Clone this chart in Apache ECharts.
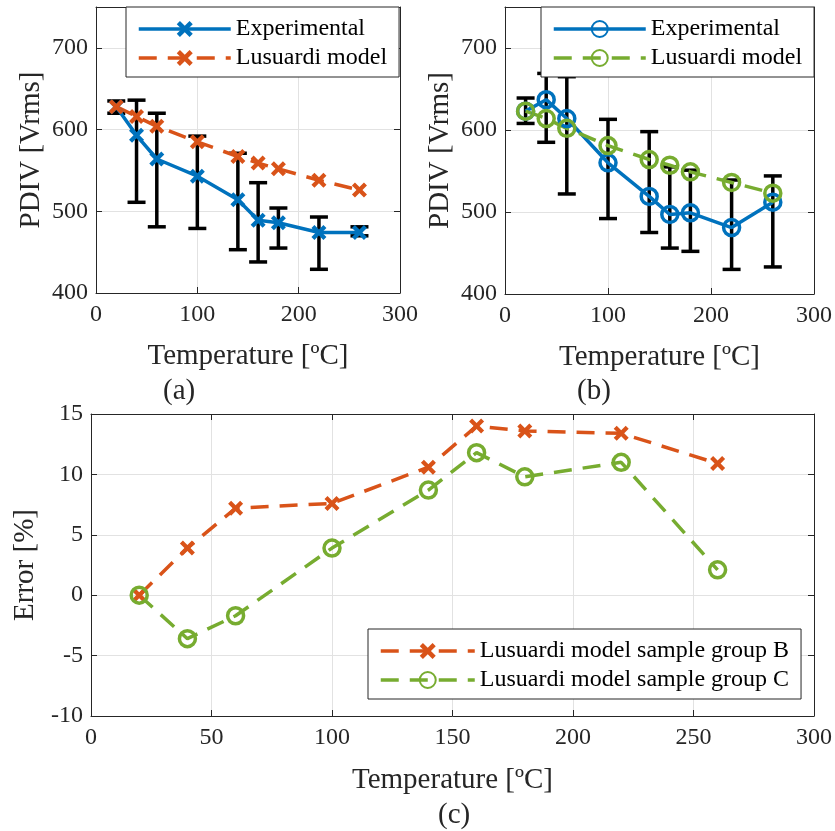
<!DOCTYPE html>
<html>
<head>
<meta charset="utf-8">
<script src="https://cdn.jsdelivr.net/npm/echarts@6/dist/echarts.min.js"></script>
<style>
  html, body { margin: 0; padding: 0; background: #fff; }
  #chart { width: 835px; height: 831px; }
</style>
</head>
<body>
<div id="chart"></div>
<script>
// temperatures [ºC]
const temps = [20, 40, 60, 100, 140, 160, 180, 220, 260];

// (a) sample group B, PDIV [Vrms]
const expA = [628, 593, 564, 543, 514, 489, 486, 474, 474];
const expALow = [620, 511, 481, 479, 453, 438, 455, 429, 470];
const expAHigh = [635, 636, 620, 592, 571, 535, 504, 493, 481];
const lusA = [628, 616, 604, 585, 567, 559, 552, 538, 526];

// (b) sample group C, PDIV [Vrms]
const expB = [623, 637, 614, 560, 519, 497, 499, 481, 512];
const expBLow = [608, 585, 522, 492, 475, 456, 452, 430, 433];
const expBHigh = [639, 669, 665, 613, 598, 555, 551, 539, 544];
const lusB = [623, 614, 602, 581, 564, 557, 549, 536, 523];

// (c) model error [%]
const errB = [0, 3.9, 7.2, 7.6, 10.6, 14.0, 13.6, 13.4, 10.9];
const errC = [0, -3.6, -1.7, 3.9, 8.7, 11.8, 9.8, 11.0, 2.1];

const BLUE = '#0072BD';
const ORANGE = '#D95319';
const GREEN = '#77AC30';
const AX = '#262626';
const FONT = '"Liberation Serif", "Times New Roman", serif';

// thick "x" marker (MATLAB style)
const X_MARK = 'path://M0,2L2,0L5,3L8,0L10,2L7,5L10,8L8,10L5,7L2,10L0,8L3,5Z';
const DASH = [18, 11];
const LW = 3.5;

const pairs = (xs, ys) => xs.map((x, i) => [x, ys[i]]);
const triples = (xs, lo, hi) => xs.map((x, i) => [x, lo[i], hi[i]]);

function mainX(grid, interval, nameGap) {
  return {
    gridIndex: grid, type: 'value', min: 0, max: 300, interval: interval,
    name: 'Temperature [ºC]', nameLocation: 'middle', nameGap: nameGap,
    nameTextStyle: { fontFamily: FONT, fontSize: 29, color: AX },
    axisLine: { show: true, onZero: false, lineStyle: { color: AX, width: 1 } },
    axisTick: { show: true, inside: true, length: 6, lineStyle: { color: AX } },
    axisLabel: { fontFamily: FONT, fontSize: 24, color: AX, margin: 10 },
    splitLine: { show: true, lineStyle: { color: '#e2e2e2', width: 1 } }
  };
}
function mirrorX(grid, interval) {
  return {
    gridIndex: grid, type: 'value', min: 0, max: 300, interval: interval, position: 'top',
    axisLine: { show: true, onZero: false, lineStyle: { color: AX, width: 1 } },
    axisTick: { show: true, inside: true, length: 6, lineStyle: { color: AX } },
    axisLabel: { show: false }, splitLine: { show: false }
  };
}
function mainY(grid, min, max, interval, name, nameGap, showMax) {
  return {
    gridIndex: grid, type: 'value', min: min, max: max, interval: interval,
    name: name, nameLocation: 'middle', nameGap: nameGap,
    nameTextStyle: { fontFamily: FONT, fontSize: 29, color: AX },
    axisLine: { show: true, onZero: false, lineStyle: { color: AX, width: 1 } },
    axisTick: { show: true, inside: true, length: 6, lineStyle: { color: AX } },
    axisLabel: { fontFamily: FONT, fontSize: 24, color: AX, margin: 8, showMaxLabel: showMax },
    splitLine: { show: true, lineStyle: { color: '#e2e2e2', width: 1 } }
  };
}
function mirrorY(grid, min, max, interval) {
  return {
    gridIndex: grid, type: 'value', min: min, max: max, interval: interval, position: 'right',
    axisLine: { show: true, onZero: false, lineStyle: { color: AX, width: 1 } },
    axisTick: { show: true, inside: true, length: 6, lineStyle: { color: AX } },
    axisLabel: { show: false }, splitLine: { show: false }
  };
}

function errorBars(xAxisIndex, yAxisIndex, data) {
  return {
    type: 'custom', xAxisIndex: xAxisIndex, yAxisIndex: yAxisIndex, z: 1,
    encode: { x: 0, y: [1, 2] },
    data: data,
    renderItem: (params, api) => {
      const lo = api.coord([api.value(0), api.value(1)]);
      const hi = api.coord([api.value(0), api.value(2)]);
      const w = 9;
      const style = { stroke: '#000', lineWidth: LW };
      return {
        type: 'group',
        children: [
          { type: 'line', shape: { x1: lo[0], y1: lo[1], x2: hi[0], y2: hi[1] }, style: style },
          { type: 'line', shape: { x1: lo[0] - w, y1: lo[1], x2: lo[0] + w, y2: lo[1] }, style: style },
          { type: 'line', shape: { x1: hi[0] - w, y1: hi[1], x2: hi[0] + w, y2: hi[1] }, style: style }
        ]
      };
    }
  };
}

function crossLine(name, xi, yi, data, color, dashed) {
  return {
    name: name, type: 'line', xAxisIndex: xi, yAxisIndex: yi, z: 3,
    data: data, symbol: X_MARK, symbolSize: 15,
    itemStyle: { color: color },
    lineStyle: { color: color, width: LW, type: dashed ? DASH : 'solid' }
  };
}
function circleLine(name, xi, yi, data, color, dashed) {
  return {
    name: name, type: 'line', xAxisIndex: xi, yAxisIndex: yi, z: 3,
    data: data, symbol: 'circle', symbolSize: 16,
    itemStyle: { color: 'rgba(0,0,0,0)', borderColor: color, borderWidth: LW },
    lineStyle: { color: color, width: LW, type: dashed ? DASH : 'solid' }
  };
}

function legendBox(left, top, names, itemWidth) {
  return {
    left: left, top: top, orient: 'vertical',
    data: names,
    formatter: n => n.slice(2),
    itemWidth: itemWidth, itemHeight: 20, itemGap: 5,
    padding: [10, 12, 7, 11],
    borderColor: AX, borderWidth: 1, backgroundColor: '#fff',
    selectedMode: false,
    lineStyle: { width: LW },
    textStyle: { fontFamily: FONT, fontSize: 24, color: '#000' }
  };
}

const chart = echarts.init(document.getElementById('chart'));

const option = {
  animation: false,
  backgroundColor: '#fff',
  grid: [
    { left: 96, top: 7, width: 304, height: 286 },
    { left: 505, top: 7, width: 309, height: 287 },
    { left: 91, top: 414, width: 724, height: 302 }
  ],
  xAxis: [
    mainX(0, 100, 49), mainX(1, 100, 49), mainX(2, 50, 50),
    mirrorX(0, 100), mirrorX(1, 100), mirrorX(2, 50)
  ],
  yAxis: [
    mainY(0, 400, 750, 100, 'PDIV [Vrms]', 50, false),
    mainY(1, 400, 750, 100, 'PDIV [Vrms]', 50, false),
    mainY(2, -10, 15, 5, 'Error [%]', 50, true),
    mirrorY(0, 400, 750, 100), mirrorY(1, 400, 750, 100), mirrorY(2, -10, 15, 5)
  ],
  legend: [
    legendBox(126, 7, ['a:Experimental', 'a:Lusuardi model'], 92),
    legendBox(541, 7, ['b:Experimental', 'b:Lusuardi model'], 92),
    legendBox(368, 629, ['c:Lusuardi model sample group B', 'c:Lusuardi model sample group C'], 94)
  ],
  graphic: [
    { type: 'text', left: 163, top: 377, style: { text: '(a)', font: '29px ' + FONT, fill: AX } },
    { type: 'text', left: 577, top: 377, style: { text: '(b)', font: '29px ' + FONT, fill: AX } },
    { type: 'text', left: 438, top: 801, style: { text: '(c)', font: '29px ' + FONT, fill: AX } }
  ],
  series: [
    errorBars(0, 0, triples(temps, expALow, expAHigh)),
    crossLine('a:Experimental', 0, 0, pairs(temps, expA), BLUE, false),
    crossLine('a:Lusuardi model', 0, 0, pairs(temps, lusA), ORANGE, true),

    errorBars(1, 1, triples(temps, expBLow, expBHigh)),
    circleLine('b:Experimental', 1, 1, pairs(temps, expB), BLUE, false),
    circleLine('b:Lusuardi model', 1, 1, pairs(temps, lusB), GREEN, true),

    crossLine('c:Lusuardi model sample group B', 2, 2, pairs(temps, errB), ORANGE, true),
    circleLine('c:Lusuardi model sample group C', 2, 2, pairs(temps, errC), GREEN, true)
  ]
};

chart.setOption(option);
</script>
</body>
</html>
